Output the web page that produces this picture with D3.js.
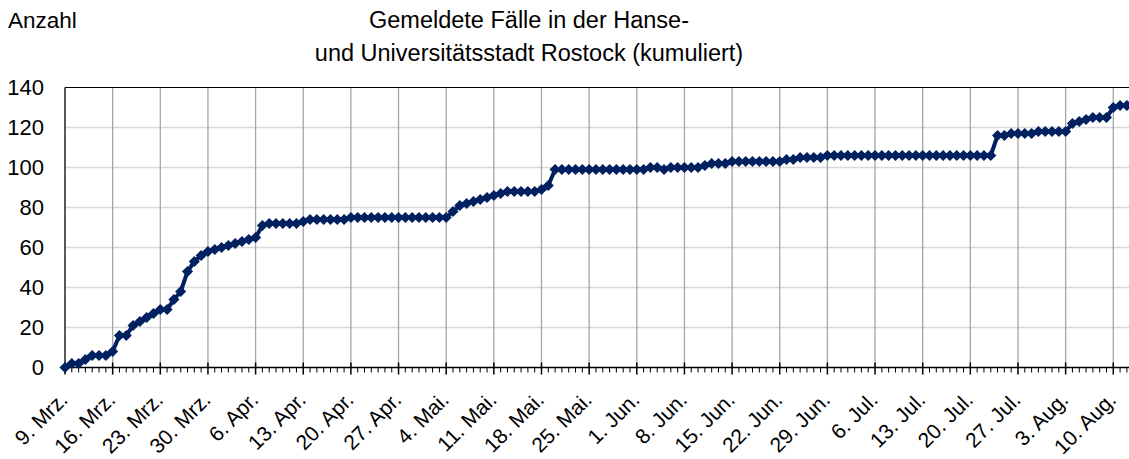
<!DOCTYPE html>
<html>
<head>
<meta charset="utf-8">
<script src="https://cdn.jsdelivr.net/npm/d3@7"></script>
<style>
  body { margin: 0; background: #fff; }
  text { font-family: "Liberation Sans", Arial, sans-serif; fill: #000; }
</style>
</head>
<body>
<script>
var width = 1129;
var height = 459;

// daily cumulative counts, starting 9. Mrz. (one value per day)
var values = [
  0, 2, 2, 4, 6, 6, 6, 8, 16, 16,
  21, 23, 25, 27, 29, 29, 34, 38, 48, 53,
  56, 58, 59, 60, 61, 62, 63, 64, 65, 71,
  72, 72, 72, 72, 72, 73, 74, 74, 74, 74,
  74, 74, 75, 75, 75, 75, 75, 75, 75, 75,
  75, 75, 75, 75, 75, 75, 75, 78, 81, 82,
  83, 84, 85, 86, 87, 88, 88, 88, 88, 88,
  89, 91, 99, 99, 99, 99, 99, 99, 99, 99,
  99, 99, 99, 99, 99, 99, 100, 100, 99, 100,
  100, 100, 100, 100, 101, 102, 102, 102, 103, 103,
  103, 103, 103, 103, 103, 103, 104, 104, 105, 105,
  105, 105, 106, 106, 106, 106, 106, 106, 106, 106,
  106, 106, 106, 106, 106, 106, 106, 106, 106, 106,
  106, 106, 106, 106, 106, 106, 106, 116, 116, 117,
  117, 117, 117, 118, 118, 118, 118, 118, 122, 123,
  124, 125, 125, 125, 130, 131, 131
];

// weekly tick labels (every 7 days)
var tickLabels = ["9. Mrz.", "16. Mrz.", "23. Mrz.", "30. Mrz.", "6. Apr.", "13. Apr.",
  "20. Apr.", "27. Apr.", "4. Mai.", "11. Mai.", "18. Mai.", "25. Mai.", "1. Jun.",
  "8. Jun.", "15. Jun.", "22. Jun.", "29. Jun.", "6. Jul.", "13. Jul.", "20. Jul.",
  "27. Jul.", "3. Aug.", "10. Aug."];

var yTicks = [0, 20, 40, 60, 80, 100, 120, 140];

var titleLines = ["Gemeldete Fälle in der Hanse-", "und Universitätsstadt Rostock (kumuliert)"];

var svg = d3.select("body")
  .append("svg")
  .attr("width", width)
  .attr("height", height);

var x = d3.scaleLinear()
  .domain([0, 157])
  .range([65, 65 + 157 * 6.807]);

var y = d3.scaleLinear()
  .domain([0, 140])
  .range([367.5, 87.5]);

var days = d3.range(values.length);
var allDays = d3.range(0, 158);
var weekDays = tickLabels.map(function(d, i) { return i * 7; });

// horizontal grid
svg.append("g")
  .selectAll("line")
  .data(yTicks.filter(function(d) { return d > 0 && d < 140; }))
  .enter()
  .append("line")
  .attr("x1", x(0)).attr("x2", width)
  .attr("y1", function(d) { return y(d); })
  .attr("y2", function(d) { return y(d); })
  .attr("stroke", "#d9d9d9")
  .attr("stroke-width", 1.6);

// vertical grid (weekly)
svg.append("g")
  .selectAll("line")
  .data(weekDays.filter(function(d) { return d > 0; }))
  .enter()
  .append("line")
  .attr("x1", function(d) { return x(d); })
  .attr("x2", function(d) { return x(d); })
  .attr("y1", y(140)).attr("y2", y(0))
  .attr("stroke", "#a6a6a6")
  .attr("stroke-width", 1.3);

// top border
svg.append("line")
  .attr("x1", x(0)).attr("x2", width)
  .attr("y1", y(140)).attr("y2", y(140))
  .attr("stroke", "#000").attr("stroke-width", 1);

// y axis line + labels
svg.append("line")
  .attr("x1", x(0)).attr("x2", x(0))
  .attr("y1", y(140)).attr("y2", y(0))
  .attr("stroke", "#000").attr("stroke-width", 1.3);

svg.append("g")
  .selectAll("text")
  .data(yTicks)
  .enter()
  .append("text")
  .attr("x", 44)
  .attr("y", function(d) { return y(d); })
  .attr("dy", "0.36em")
  .attr("text-anchor", "end")
  .style("font-size", "22px")
  .text(function(d) { return d; });

// x axis line with daily minor ticks and weekly major ticks
svg.append("line")
  .attr("x1", x(0)).attr("x2", width)
  .attr("y1", y(0)).attr("y2", y(0))
  .attr("stroke", "#000").attr("stroke-width", 1.5);

svg.append("g")
  .selectAll("line")
  .data(allDays.filter(function(d) { return d % 7 != 0; }))
  .enter()
  .append("line")
  .attr("x1", function(d) { return x(d); })
  .attr("x2", function(d) { return x(d); })
  .attr("y1", y(0)).attr("y2", y(0) + 5)
  .attr("stroke", "#000").attr("stroke-width", 1);

svg.append("g")
  .selectAll("line")
  .data(weekDays)
  .enter()
  .append("line")
  .attr("x1", function(d) { return x(d); })
  .attr("x2", function(d) { return x(d); })
  .attr("y1", y(0) - 5).attr("y2", y(0) + 7)
  .attr("stroke", "#000").attr("stroke-width", 1.5);

svg.append("g")
  .selectAll("text")
  .data(tickLabels)
  .enter()
  .append("text")
  .attr("transform", function(d, i) {
    return "translate(" + (x(i * 7) + 4) + ",401) rotate(-45)";
  })
  .attr("text-anchor", "end")
  .style("font-size", "21px")
  .text(function(d) { return d; });

// line + diamond markers
var line = d3.line()
  .x(function(d) { return x(d); })
  .y(function(d) { return y(values[d]); });

svg.append("path")
  .datum(days)
  .attr("d", line)
  .attr("fill", "none")
  .attr("stroke", "#002060")
  .attr("stroke-width", 4)
  .attr("stroke-linejoin", "round");

svg.append("g")
  .selectAll("path")
  .data(days)
  .enter()
  .append("path")
  .attr("d", d3.symbol().type(d3.symbolSquare).size(62))
  .attr("transform", function(d) {
    return "translate(" + x(d) + "," + y(values[d]) + ") rotate(45)";
  })
  .attr("fill", "#002060");

// titles
svg.append("text")
  .attr("x", 8).attr("y", 28)
  .style("font-size", "22.5px")
  .text("Anzahl");

svg.append("g")
  .selectAll("text")
  .data(titleLines)
  .enter()
  .append("text")
  .attr("x", 529)
  .attr("y", function(d, i) { return 28 + i * 33; })
  .attr("text-anchor", "middle")
  .style("font-size", "23.5px")
  .text(function(d) { return d; });
</script>
</body>
</html>
